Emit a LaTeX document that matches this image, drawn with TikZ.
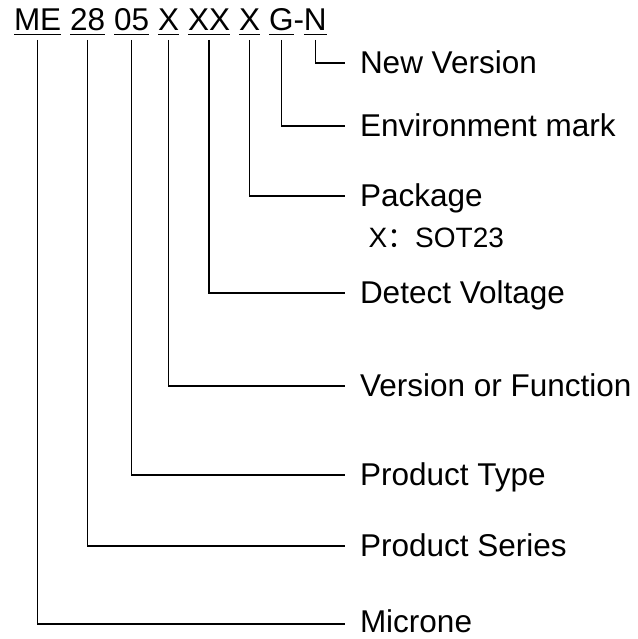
\documentclass[tikz,border=0pt]{standalone}
\usepackage{fontspec}
\setmainfont{Liberation Sans}
\newfontfamily\cjkfont{Noto Sans CJK SC}
\usetikzlibrary{positioning}

\begin{document}
\begin{tikzpicture}[x=1pt, y=-1pt, line width=1.1pt,
	part/.style={inner sep=0pt, outer sep=0pt, anchor=base west, text depth=0pt, font=\fontsize{31.5}{36}\selectfont},
	lbl/.style={inner sep=0pt, outer sep=0pt, anchor=west, text height=21pt, text depth=0pt, font=\fontsize{31.5}{36}\selectfont},
	sub/.style={inner sep=0pt, anchor=base west, font=\fontsize{28}{32}\selectfont}]
	\useasboundingbox (0,0) rectangle (637,639);
	%code
	\node[part] (me)   at (14,31)  {ME};
	\node[part] (ser)  at (70,31)  {28};
	\node[part] (typ)  at (114,31) {05};
	\node[part] (ver)  at (158,31) {X};
	\node[part] (vol)  at (188,31) {XX};
	\node[part] (pkg)  at (239,31) {X};
	\node[part] (env)  at (269,31) {G};
	\node[part] (dash) at (env.base east) {-};
	\node[part] (new)  at (dash.base east) {N};
	\foreach \p in {me,ser,typ,ver,vol,pkg,env,new}
		\draw ([yshift=-3.5pt]\p.base west) -- ([yshift=-3.5pt]\p.base east);
	%meaning
	\node[lbl] (newl) at (360,63)  {New Version};
	\node[lbl] (envl) at (360,126) {Environment mark};
	\node[lbl] (pkgl) at (360,196) {Package};
	\node[sub] (sot)  at (368,247) {X\cjkfont ：\rmfamily SOT23};
	\node[lbl] (voll) at (360,293) {Detect Voltage};
	\node[lbl] (verl) at (360,386) {Version or Function};
	\node[lbl] (typl) at (360,475) {Product Type};
	\node[lbl] (serl) at (360,546) {Product Series};
	\node[lbl, text height=16pt] (mel) at (360,624) {Microne};
	\foreach \p/\l in {new/newl,env/envl,pkg/pkgl,vol/voll,ver/verl,typ/typl,ser/serl,me/mel}
		\draw ([yshift=-9pt]\p.south) |- ([xshift=-15pt]\l.west);
\end{tikzpicture}
\end{document}
